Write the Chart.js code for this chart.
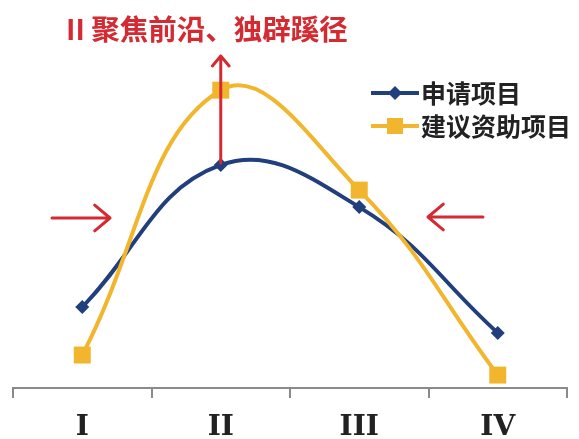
<!DOCTYPE html>
<html>
<head>
<meta charset="utf-8">
<script src="https://cdn.jsdelivr.net/npm/chart.js@4"></script>
<style>
  html, body { margin: 0; padding: 0; background: #fff; }
  #wrap { width: 579px; height: 439px; }
</style>
</head>
<body>
<div id="wrap"><canvas id="myChart"></canvas></div>
<script>
const categories = ['I', 'II', 'III', 'IV'];
const seriesNames = ['申请项目', '建议资助项目'];
const applied = [23.8, 65.6, 53.2, 16.2];
const funded = [9.7, 87.6, 58.2, 3.8];
const titleText = 'II 聚焦前沿、独辟蹊径';

const BLUE = '#213f7c';
const GOLD = '#f2b62e';
const RED = '#d42a32';

function arrow(ctx, x1, y1, x2, y2, head) {
    const a = Math.atan2(y2 - y1, x2 - x1);
    ctx.beginPath();
    ctx.moveTo(x1, y1);
    ctx.lineTo(x2, y2);
    ctx.moveTo(x2 - head * Math.cos(a - 0.7), y2 - head * Math.sin(a - 0.7));
    ctx.lineTo(x2, y2);
    ctx.lineTo(x2 - head * Math.cos(a + 0.7), y2 - head * Math.sin(a + 0.7));
    ctx.stroke();
}

// title, arrows and legend drawn on top of the chart
const decorations = {
    id: 'decorations',
    afterDraw(chart) {
        const ctx = chart.ctx;
        const xs = chart.scales.x, ys = chart.scales.y;
        ctx.save();

        ctx.fillStyle = RED;
        ctx.font = 'bold 28.5px "Noto Sans CJK SC"';
        ctx.textBaseline = 'middle';
        ctx.textAlign = 'left';
        ctx.fillText(titleText, 66, 29);

        ctx.strokeStyle = RED;
        ctx.lineWidth = 3;
        ctx.lineCap = 'round';
        ctx.lineJoin = 'round';
        const px = xs.getPixelForValue(1);
        arrow(ctx, px, ys.getPixelForValue(applied[1]) - 2, px, 56, 13);
        arrow(ctx, 52, 218, 110, 218, 20);
        arrow(ctx, 483, 217, 428, 217, 20);

        // legend
        const rows = [
            { y: 93, color: BLUE, shape: 'diamond' },
            { y: 126, color: GOLD, shape: 'square' }
        ];
        rows.forEach((r, i) => {
            ctx.strokeStyle = r.color;
            ctx.fillStyle = r.color;
            ctx.lineWidth = 4;
            ctx.lineCap = 'butt';
            ctx.beginPath();
            ctx.moveTo(371, r.y);
            ctx.lineTo(419, r.y);
            ctx.stroke();
            ctx.beginPath();
            if (r.shape === 'diamond') {
                ctx.moveTo(395, r.y - 7);
                ctx.lineTo(402, r.y);
                ctx.lineTo(395, r.y + 7);
                ctx.lineTo(388, r.y);
            } else {
                ctx.rect(387, r.y - 8, 16, 16);
            }
            ctx.fill();
            ctx.fillStyle = '#222';
            ctx.font = 'bold 25px "Noto Sans CJK SC"';
            ctx.fillText(seriesNames[i], 421, r.y);
        });
        ctx.restore();
    }
};

const ctx = document.getElementById('myChart').getContext('2d');
new Chart(ctx, {
    type: 'line',
    data: {
        labels: categories,
        datasets: [
            {
                label: seriesNames[0],
                data: applied,
                borderColor: BLUE,
                backgroundColor: BLUE,
                borderWidth: 4,
                pointStyle: 'rectRot',
                pointRadius: 7,
                pointBorderWidth: 0,
                tension: 0.42,
                order: 1
            },
            {
                label: seriesNames[1],
                data: funded,
                borderColor: GOLD,
                backgroundColor: GOLD,
                borderWidth: 4,
                pointStyle: 'rect',
                pointRadius: 12,
                pointBorderWidth: 0,
                tension: 0.42,
                order: 0
            }
        ]
    },
    options: {
        responsive: true,
        maintainAspectRatio: false,
        animation: false,
        clip: false,
        layout: { padding: { left: 13, right: 7, top: 48, bottom: 0 } },
        plugins: {
            legend: { display: false },
            tooltip: { enabled: false }
        },
        scales: {
            x: {
                offset: true,
                afterFit(axis) { axis.height = 51; },
                grid: {
                    offset: true,
                    drawOnChartArea: false,
                    drawTicks: true,
                    tickLength: 10,
                    color: '#8a8a8a',
                    lineWidth: 2
                },
                border: { display: true, color: '#8a8a8a', width: 2 },
                ticks: {
                    color: '#222',
                    padding: 13,
                    font: { family: '"DejaVu Serif"', size: 28, weight: 'bold' }
                }
            },
            y: {
                display: false,
                min: 0,
                max: 100
            }
        }
    },
    plugins: [decorations]
});
</script>
</body>
</html>
